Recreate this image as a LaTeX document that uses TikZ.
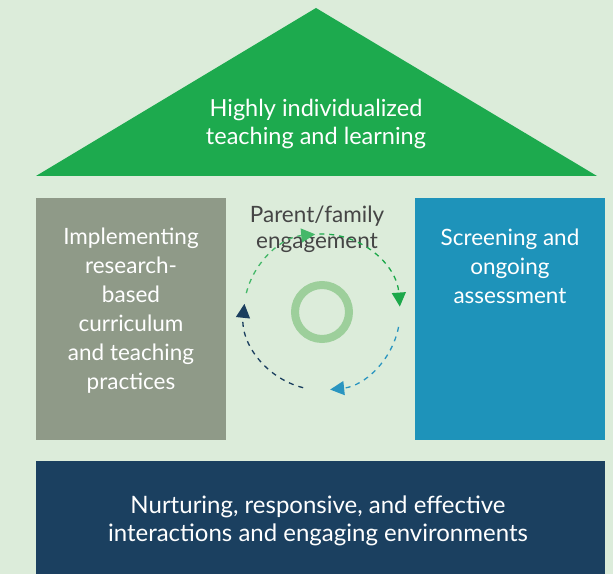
\documentclass[tikz,border=0pt]{standalone}
\usepackage{fontspec}
\setmainfont{Lato}
\usetikzlibrary{arrows.meta}
\definecolor{bg}{HTML}{DCECDA}
\definecolor{roofgreen}{HTML}{1DAA4E}
\definecolor{pillargray}{HTML}{8F9A88}
\definecolor{pillarblue}{HTML}{1E93BA}
\definecolor{basenavy}{HTML}{1B4060}
\definecolor{ringgreen}{HTML}{9DCF9B}
\definecolor{lightgreen}{HTML}{45B869}
\definecolor{darkgreen}{HTML}{1DA84A}
\definecolor{cycleblue}{HTML}{2A95C0}
\definecolor{cyclenavy}{HTML}{1B3F5F}
\definecolor{labelgray}{HTML}{454545}
\tikzset{
  whitetext/.style={text=white, font=\fontsize{22.5}{29}\selectfont, align=center, inner sep=0pt},
  cyclearc/.style={line width=1.3pt, dash pattern=on 5pt off 5pt, -{Triangle[length=14pt,width=14pt]}},
}
\begin{document}
\begin{tikzpicture}[x=1pt,y=1pt]
\useasboundingbox (0,0) rectangle (613,574);
\fill[bg] (0,0) rectangle (613,574);
% roof
\fill[roofgreen] (36,398) -- (316,566) -- (597,398) -- cycle;
\node[whitetext, font=\fontsize{23.5}{28}\selectfont] (roof) at (316,450) {Highly individualized\\teaching and learning};
% pillars
\fill[pillargray] (36,134) rectangle (226,376);
\node[whitetext] (left) at (131,263) {Implementing\\research-\\based\\curriculum\\and teaching\\practices};
\fill[pillarblue] (415,134) rectangle (605,376);
\node[whitetext] (right) at (510,308) {Screening and\\ongoing\\assessment};
% base
\fill[basenavy] (36,0) rectangle (605,113);
\node[whitetext, font=\fontsize{24}{28}\selectfont] (base) at (318,53) {Nurturing, responsive, and effective\\interactions and engaging environments};
% center
\coordinate (c) at (322,262);
\draw[ringgreen, line width=8pt] (c) circle[radius=27];
\node[text=labelgray, font=\fontsize{22.5}{26}\selectfont, align=center, inner sep=0pt] (parent) at (317,345) {Parent/family\\engagement};
\draw[cyclearc, lightgreen] (c) ++(166:78) arc[start angle=166, end angle=95, radius=78];
\draw[cyclearc, darkgreen] (c) ++(92:78) arc[start angle=92, end angle=4, radius=78];
\draw[cyclearc, cycleblue] (c) ++(-11:78) arc[start angle=-11, end angle=-84, radius=78];
\draw[cyclearc, cyclenavy] (c) ++(-104:78) arc[start angle=-104, end angle=-186, radius=78];
\end{tikzpicture}
\end{document}
